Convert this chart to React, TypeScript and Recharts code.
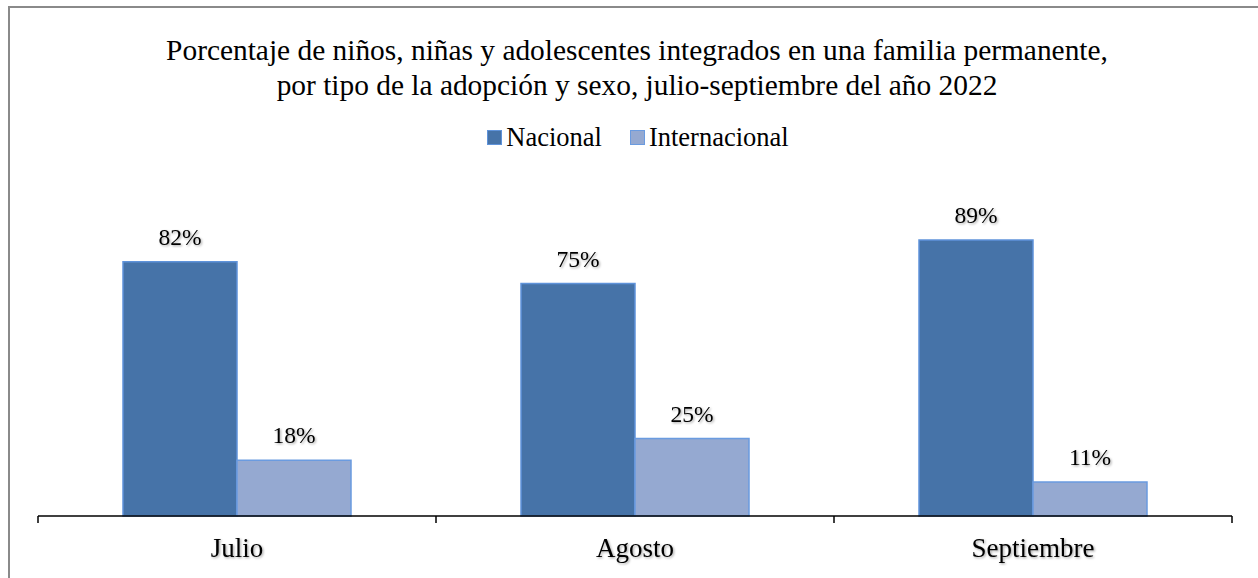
import React from "react";
import { BarChart, Bar, XAxis, YAxis, LabelList, Legend } from "recharts";

const categories = ["Julio", "Agosto", "Septiembre"];
const nacional = [82, 75, 89];
const internacional = [18, 25, 11];
const seriesNames = ["Nacional", "Internacional"];
const titleLines = [
  "Porcentaje de niños, niñas y adolescentes integrados en una familia permanente,",
  "por tipo de la adopción y sexo, julio-septiembre del año 2022",
];

const data = categories.map((c, i) => ({
  name: c,
  nacional: nacional[i],
  internacional: internacional[i],
}));

const W = 1258;
const H = 578;
const XH = 30;
const LEGEND_H = 30;
const M = { top: 206 - LEGEND_H, right: 26, bottom: 62 - XH, left: 38 };
const FONT = "'Liberation Serif', 'Times New Roman', serif";
const COLORS = [
  { fill: "#4673A8", stroke: "#5F93DA" },
  { fill: "#95A9D1", stroke: "#6A9BE0" },
];

const band = (W - M.left - M.right) / categories.length;

const Tick = (props: any) => {
  const { x, y, payload, index } = props;
  const left = x - band / 2;
  const right = x + band / 2;
  const axisY = y - 8;
  return (
    <g>
      <line x1={left} y1={axisY} x2={left} y2={axisY + 7} stroke="#000" strokeWidth={1.5} />
      {index === categories.length - 1 && (
        <line x1={right} y1={axisY} x2={right} y2={axisY + 7} stroke="#000" strokeWidth={1.5} />
      )}
      <text
        x={x}
        y={axisY + 41}
        textAnchor="middle"
        fontFamily={FONT}
        fontSize={27}
        fill="#000"
        filter="url(#shadow)"
      >
        {payload.value}
      </text>
    </g>
  );
};

const LegendContent = () => (
  <div
    style={{
      display: "flex",
      justifyContent: "center",
      alignItems: "center",
      fontFamily: FONT,
      fontSize: 26.5,
      lineHeight: `${LEGEND_H}px`,
      height: LEGEND_H,
      color: "#000",
    }}
  >
    {seriesNames.map((n, i) => (
      <span key={n} style={{ display: "inline-flex", alignItems: "center", marginRight: i === 0 ? 28 : 0 }}>
        <span
          style={{
            display: "inline-block",
            width: 13,
            height: 13,
            background: COLORS[i].fill,
            border: `1px solid ${COLORS[i].stroke}`,
            marginRight: 4,
          }}
        />
        {n}
      </span>
    ))}
  </div>
);

const labelFmt = (v: any) => `${v}%`;

export default function App() {
  return (
    <div style={{ position: "absolute", left: 0, top: 0, width: W, height: H, background: "#fff" }}>
      <div
        style={{
          position: "absolute",
          left: 8,
          top: 6,
          width: W,
          height: H,
          borderLeft: "2px solid #8a8a8a",
          borderTop: "2px solid #8a8a8a",
          boxSizing: "border-box",
        }}
      />
      <div
        style={{
          position: "absolute",
          left: 8,
          top: 33,
          width: 1258,
          textAlign: "center",
          fontFamily: FONT,
          fontSize: 29.4,
          lineHeight: "35px",
          color: "#000",
        }}
      >
        {titleLines.map((t) => (
          <div key={t}>{t}</div>
        ))}
      </div>
      <div style={{ position: "absolute", left: 0, top: 0 }}>
        <BarChart width={W} height={H} data={data} margin={M} barGap={0}>
          <defs>
            <filter id="shadow" x="-20%" y="-20%" width="140%" height="140%">
              <feDropShadow dx="1.2" dy="1.2" stdDeviation="0.8" floodColor="#000" floodOpacity="0.35" />
            </filter>
          </defs>
          <YAxis hide domain={[0, 100]} />
          <XAxis
            dataKey="name"
            height={XH}
            axisLine={{ stroke: "#000", strokeWidth: 1.5 }}
            tickLine={false}
            tick={<Tick />}
            interval={0}
          />
          <Legend
            verticalAlign="top"
            content={<LegendContent />}
            wrapperStyle={{ top: 122, left: 9, width: W, height: LEGEND_H }}
          />
          <Bar
            dataKey="nacional"
            name={seriesNames[0]}
            fill={COLORS[0].fill}
            stroke={COLORS[0].stroke}
            strokeWidth={1.5}
            barSize={114}
            isAnimationActive={false}
          >
            <LabelList
              dataKey="nacional"
              position="top"
              offset={17}
              formatter={labelFmt}
              fontFamily={FONT}
              fontSize={23.5}
              fill="#000"
              filter="url(#shadow)"
            />
          </Bar>
          <Bar
            dataKey="internacional"
            name={seriesNames[1]}
            fill={COLORS[1].fill}
            stroke={COLORS[1].stroke}
            strokeWidth={1.5}
            barSize={114}
            isAnimationActive={false}
          >
            <LabelList
              dataKey="internacional"
              position="top"
              offset={17}
              formatter={labelFmt}
              fontFamily={FONT}
              fontSize={23.5}
              fill="#000"
              filter="url(#shadow)"
            />
          </Bar>
        </BarChart>
      </div>
    </div>
  );
}
